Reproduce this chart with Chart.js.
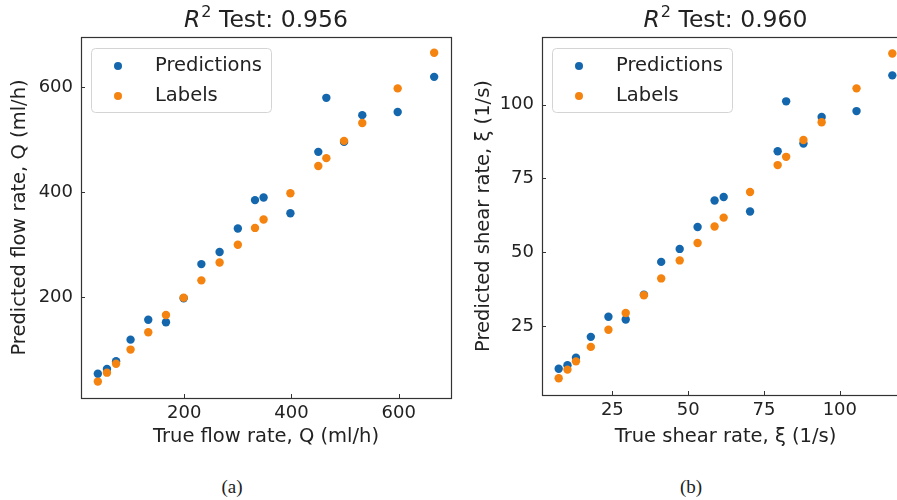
<!DOCTYPE html>
<html>
<head>
<meta charset="utf-8">
<script src="https://cdn.jsdelivr.net/npm/chart.js@4/dist/chart.umd.min.js"></script>
<style>
  html, body { margin: 0; padding: 0; background: #fff; }
  #wrap { position: relative; width: 897px; height: 500px; overflow: hidden; background: #fff; }
  canvas { position: absolute; top: 0; }
  .cap { position: absolute; top: 476px; font-family: "Liberation Serif", "DejaVu Serif", serif; font-size: 19px; color: #222; transform: translateX(-50%); }
</style>
</head>
<body>
<div id="wrap">
  <canvas id="c1" width="470" height="460" style="left:0px"></canvas>
  <canvas id="c2" width="470" height="460" style="left:460px"></canvas>
  <div class="cap" style="left:232px">(a)</div>
  <div class="cap" style="left:691px">(b)</div>
</div>
<script>
// ---- data ----
const trueQ = [39, 56, 73, 100, 133, 166, 199, 232, 266, 300, 332, 348, 398, 450, 465, 498, 532, 598, 666];
const predQ = [54, 63, 78, 119, 157, 152, 198, 263, 286, 331, 385, 390, 360, 477, 580, 496, 547, 553, 620];
const trueXi = [7.3, 10.2, 13, 17.9, 23.7, 29.4, 35.4, 41.1, 47.2, 53.1, 58.7, 61.7, 70.4, 79.5, 82.3, 88, 94, 105.5, 117.3];
const predXi = [10.5, 11.7, 14.2, 21.3, 28.1, 27.2, 35.6, 46.7, 51.1, 58.5, 67.5, 68.7, 63.8, 84.2, 101.1, 86.8, 95.8, 97.8, 109.9];
const ticksQ = [200, 400, 600];
const ticksXi = [25, 50, 75, 100];
const seriesNames = ['Predictions', 'Labels'];
const r2Q = '0.956';
const r2Xi = '0.960';

const BLUE = '#1467ad';
const ORANGE = '#f5830f';
const FONT = '"DejaVu Sans", sans-serif';

const framePlugin = {
  id: 'frame',
  afterDraw(chart, args, opts) {
    const ctx = chart.ctx;
    const a = chart.chartArea;
    ctx.save();
    // inward ticks
    ctx.strokeStyle = '#333';
    ctx.lineWidth = 1;
    const xs = chart.scales.x, ys = chart.scales.y;
    xs.ticks.forEach((t) => {
      const px = Math.round(xs.getPixelForValue(t.value)) + 0.5;
      ctx.beginPath(); ctx.moveTo(px, a.bottom); ctx.lineTo(px, a.bottom - 4); ctx.stroke();
    });
    ys.ticks.forEach((t) => {
      const py = Math.round(ys.getPixelForValue(t.value)) + 0.5;
      ctx.beginPath(); ctx.moveTo(a.left, py); ctx.lineTo(a.left + 4, py); ctx.stroke();
    });
    // frame
    ctx.strokeStyle = '#333';
    ctx.lineWidth = 1.2;
    ctx.strokeRect(Math.round(a.left) + 0.5, Math.round(a.top) + 0.5, Math.round(a.right - a.left), Math.round(a.bottom - a.top));
    // legend
    const lx = a.left + 10, ly = a.top + 11, lw = 180, lh = 64;
    ctx.beginPath();
    ctx.roundRect(lx + 0.5, ly + 0.5, lw, lh, 4);
    ctx.fillStyle = 'rgba(255,255,255,0.85)';
    ctx.fill();
    ctx.strokeStyle = '#d4d4d4';
    ctx.lineWidth = 1;
    ctx.stroke();
    ctx.font = '19.5px ' + FONT;
    ctx.textBaseline = 'middle';
    ctx.textAlign = 'left';
    chart.data.datasets.forEach((ds, i) => {
      const yy = ly + 18 + i * 30;
      ctx.beginPath();
      ctx.arc(lx + 27, yy, 4, 0, Math.PI * 2);
      ctx.fillStyle = ds.backgroundColor;
      ctx.fill();
      ctx.fillStyle = '#222';
      ctx.fillText(ds.label, lx + 64, yy);
    });
    // title  R^2 Test: x
    const cx = (a.left + a.right) / 2;
    const rest = ' Test: ' + opts.r2;
    ctx.font = 'italic 23.5px ' + FONT;
    const wR = ctx.measureText('R').width;
    ctx.font = '16px ' + FONT;
    const w2 = ctx.measureText('2').width;
    ctx.font = '23.5px ' + FONT;
    const wRest = ctx.measureText(rest).width;
    let x0 = cx - (wR + w2 + 1 + wRest) / 2;
    const ty = 27;
    ctx.textBaseline = 'alphabetic';
    ctx.fillStyle = '#222';
    ctx.font = 'italic 23.5px ' + FONT;
    ctx.fillText('R', x0, ty);
    ctx.font = '16px ' + FONT;
    ctx.fillText('2', x0 + wR + 1, ty - 10);
    ctx.font = '23.5px ' + FONT;
    ctx.fillText(rest, x0 + wR + w2 + 1, ty);
    ctx.restore();
  }
};

function makeChart(id, xs, ys, tickVals, range, xTitle, yTitle, r2, yAxisW, xAxisH, rightPad, yTitlePad) {
  const tickFix = (s) => { s.ticks = tickVals.map(v => ({ value: v, label: String(v) })); };
  return new Chart(document.getElementById(id), {
    type: 'scatter',
    data: {
      datasets: [
        { label: seriesNames[0], data: xs.map((x, i) => ({ x: x, y: ys[i] })), backgroundColor: BLUE, borderColor: BLUE, pointRadius: 4.2, pointBorderWidth: 0, order: 1 },
        { label: seriesNames[1], data: xs.map((x) => ({ x: x, y: x })), backgroundColor: ORANGE, borderColor: ORANGE, pointRadius: 4.2, pointBorderWidth: 0, order: 0 }
      ]
    },
    options: {
      responsive: false,
      animation: false,
      devicePixelRatio: 1,
      layout: { padding: { top: 37, right: rightPad, left: 0, bottom: 0 } },
      plugins: { legend: { display: false }, tooltip: { enabled: false }, title: { display: false }, frame: { r2: r2 } },
      scales: {
        x: {
          type: 'linear', min: range.xmin, max: range.xmax,
          afterBuildTicks: tickFix,
          afterFit: (s) => { s.height = xAxisH; },
          grid: { display: false, drawTicks: false },
          border: { display: false },
          ticks: { font: { family: FONT, size: 18 }, color: '#222', padding: 5, maxRotation: 0 },
          title: { display: true, text: xTitle, font: { family: FONT, size: 19.5 }, color: '#222', padding: { top: 0, bottom: 11 } }
        },
        y: {
          type: 'linear', min: range.ymin, max: range.ymax,
          afterBuildTicks: tickFix,
          afterFit: (s) => { s.width = yAxisW; },
          grid: { display: false, drawTicks: false },
          border: { display: false },
          ticks: { font: { family: FONT, size: 18 }, color: '#222', padding: 8 },
          title: { display: true, text: yTitle, font: { family: FONT, size: 19.5 }, color: '#222', padding: { top: yTitlePad, bottom: 0 } }
        }
      }
    },
    plugins: [framePlugin]
  });
}

makeChart('c1', trueQ, predQ, ticksQ, { xmin: 7.6, xmax: 697.4, ymin: 7.7, ymax: 696 },
  'True flow rate, Q (ml/h)', 'Predicted flow rate, Q (ml/h)', r2Q, 81, 62, 19, 8);
makeChart('c2', trueXi, predXi, ticksXi, { xmin: 1.8, xmax: 122.8, ymin: 1.6, ymax: 122.9 },
  'True shear rate, ξ (1/s)', 'Predicted shear rate, ξ (1/s)', r2Xi, 82, 65, 21, 12);
</script>
</body>
</html>
